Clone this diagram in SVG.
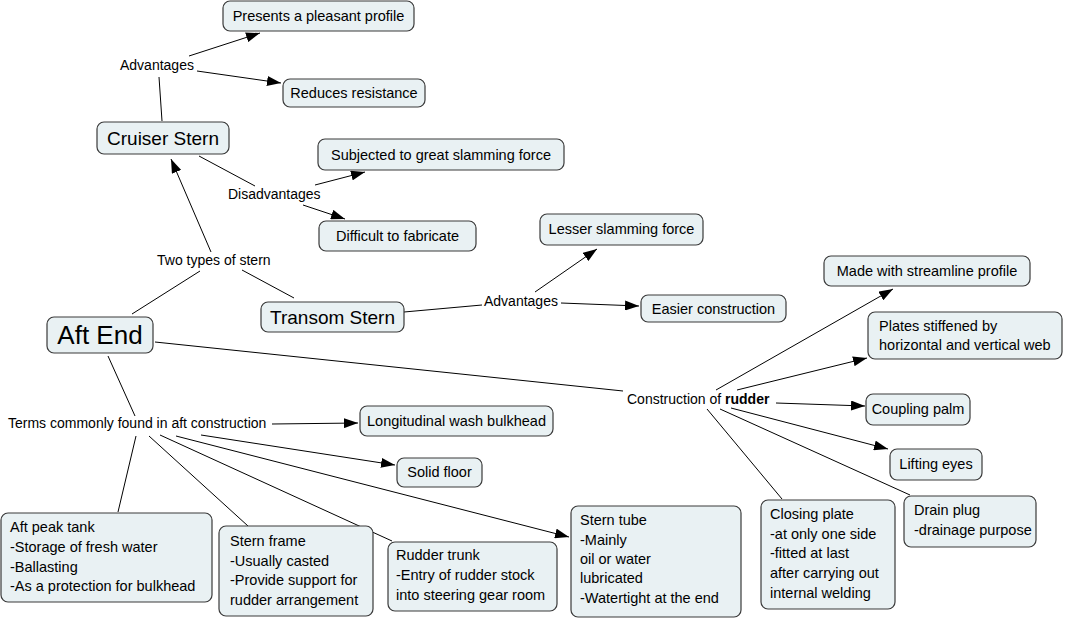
<svg xmlns="http://www.w3.org/2000/svg" width="1065" height="619" viewBox="0 0 1065 619">
<style>
.box{fill:#e9f1f3;stroke:#3a3a3a;stroke-width:1.2}
.t{font-family:"Liberation Sans",Arial,sans-serif;font-size:14.5px;fill:#000}
.c{text-anchor:middle}
.big{font-size:19px}
.huge{font-size:26px}
.lbl{font-family:"Liberation Sans",Arial,sans-serif;font-size:14px;fill:#000}
.ln{stroke:#000;stroke-width:1;fill:none}
.ar{marker-end:url(#ah)}
</style>
<defs>
<marker id="ah" viewBox="0 0 14 10" refX="14" refY="5" markerWidth="14" markerHeight="10" markerUnits="userSpaceOnUse" orient="auto"><path d="M0,0 L14,5 L0,10 z" fill="#000"/></marker>
</defs>
<rect width="1065" height="619" fill="#fff"/>
<g id="connectors">
<line class="ln" x1="162" y1="121" x2="159" y2="77"/>
<line class="ln ar" x1="189" y1="56" x2="260" y2="33"/>
<line class="ln ar" x1="197" y1="71" x2="281" y2="83"/>
<line class="ln" x1="199" y1="156" x2="255" y2="186"/>
<line class="ln ar" x1="315" y1="185" x2="365" y2="172"/>
<line class="ln ar" x1="303" y1="205" x2="345" y2="219"/>
<line class="ln ar" x1="211" y1="252" x2="171" y2="159"/>
<line class="ln" x1="132" y1="314" x2="200" y2="271"/>
<line class="ln" x1="294" y1="298" x2="242" y2="270"/>
<line class="ln" x1="404" y1="312" x2="482" y2="305"/>
<line class="ln ar" x1="535" y1="292" x2="597" y2="249"/>
<line class="ln ar" x1="561" y1="303" x2="639" y2="306"/>
<line class="ln" x1="155" y1="342" x2="623" y2="391"/>
<line class="ln" x1="108" y1="356" x2="135" y2="416"/>
<line class="ln ar" x1="272" y1="424" x2="358" y2="423"/>
<line class="ln ar" x1="201" y1="435" x2="395" y2="465"/>
<line class="ln ar" x1="176" y1="436" x2="569" y2="537"/>
<line class="ln" x1="160" y1="435" x2="392" y2="541"/>
<line class="ln" x1="149" y1="436" x2="248" y2="526"/>
<line class="ln" x1="136" y1="436" x2="118" y2="512"/>
<line class="ln ar" x1="716" y1="390" x2="893" y2="289"/>
<line class="ln ar" x1="737" y1="390" x2="867" y2="358"/>
<line class="ln ar" x1="776" y1="403" x2="865" y2="406"/>
<line class="ln ar" x1="731" y1="408" x2="888" y2="449"/>
<line class="ln" x1="720" y1="409" x2="910" y2="495"/>
<line class="ln" x1="707" y1="409" x2="782" y2="499"/>
</g>
<g id="labels">
<text class="lbl" x="120" y="70">Advantages</text>
<text class="lbl" x="228" y="199">Disadvantages</text>
<text class="lbl" x="157" y="265">Two types of stern</text>
<text class="lbl" x="484" y="306">Advantages</text>
<text class="lbl" x="8" y="428">Terms commonly found in aft construction</text>
<text class="lbl" x="627" y="404">Construction of <tspan font-weight="bold">rudder</tspan></text>
</g>
<g id="presents"><rect class="box" x="223" y="1" width="191" height="30" rx="7"/><text class="t c" x="318.5" y="21">Presents a pleasant profile</text></g>
<g id="reduces"><rect class="box" x="283" y="79" width="142" height="28" rx="7"/><text class="t c" x="354" y="98">Reduces resistance</text></g>
<g id="cruiser"><rect class="box" x="97" y="122" width="132" height="32" rx="7"/><text class="t c big" x="163" y="145">Cruiser Stern</text></g>
<g id="subjected"><rect class="box" x="318" y="139" width="246" height="31" rx="7"/><text class="t c" x="441" y="160">Subjected to great slamming force</text></g>
<g id="difficult"><rect class="box" x="319" y="221" width="157" height="30" rx="7"/><text class="t c" x="397.5" y="241">Difficult to fabricate</text></g>
<g id="lesser"><rect class="box" x="540" y="214" width="163" height="31" rx="7"/><text class="t c" x="621.5" y="234">Lesser slamming force</text></g>
<g id="transom"><rect class="box" x="261" y="302" width="143" height="30" rx="7"/><text class="t c big" x="332.5" y="324">Transom Stern</text></g>
<g id="easier"><rect class="box" x="641" y="295" width="145" height="27" rx="7"/><text class="t c" x="713.5" y="314">Easier construction</text></g>
<g id="aftend"><rect class="box" x="47" y="317" width="106" height="36" rx="7"/><text class="t c huge" x="100" y="344">Aft End</text></g>
<g id="streamline"><rect class="box" x="824" y="256" width="206" height="30" rx="7"/><text class="t c" x="927" y="276">Made with streamline profile</text></g>
<g id="plates"><rect class="box" x="868" y="312" width="194" height="47" rx="7"/><text class="t" x="879" y="331">Plates stiffened by</text><text class="t" x="879" y="350">horizontal and vertical web</text></g>
<g id="coupling"><rect class="box" x="866" y="394" width="104" height="31" rx="7"/><text class="t c" x="918" y="414">Coupling palm</text></g>
<g id="lifting"><rect class="box" x="890" y="449" width="92" height="31" rx="7"/><text class="t c" x="936" y="469">Lifting eyes</text></g>
<g id="longitudinal"><rect class="box" x="360" y="406" width="193" height="30" rx="7"/><text class="t c" x="456.5" y="426">Longitudinal wash bulkhead</text></g>
<g id="solidfloor"><rect class="box" x="397" y="458" width="85" height="29" rx="7"/><text class="t c" x="439.5" y="477">Solid floor</text></g>
<g id="aftpeak"><rect class="box" x="1" y="513" width="211" height="89" rx="7"/><text class="t" x="10" y="532">Aft peak tank</text><text class="t" x="10" y="552">-Storage of fresh water</text><text class="t" x="10" y="572">-Ballasting</text><text class="t" x="10" y="591">-As a protection for bulkhead</text></g>
<g id="sternframe"><rect class="box" x="219" y="526" width="154" height="90" rx="7"/><text class="t" x="230" y="546">Stern frame</text><text class="t" x="230" y="566">-Usually casted</text><text class="t" x="230" y="585">-Provide support for</text><text class="t" x="230" y="605">rudder arrangement</text></g>
<g id="ruddertrunk"><rect class="box" x="388" y="542" width="169" height="69" rx="7"/><text class="t" x="396" y="560">Rudder trunk</text><text class="t" x="396" y="580">-Entry of rudder stock</text><text class="t" x="396" y="600">into steering gear room</text></g>
<g id="sterntube"><rect class="box" x="571" y="506" width="170" height="111" rx="7"/><text class="t" x="580" y="525">Stern tube</text><text class="t" x="580" y="545">-Mainly</text><text class="t" x="580" y="564">oil or water</text><text class="t" x="580" y="583">lubricated</text><text class="t" x="580" y="603">-Watertight at the end</text></g>
<g id="closing"><rect class="box" x="761" y="500" width="134" height="109" rx="7"/><text class="t" x="770" y="519">Closing plate</text><text class="t" x="770" y="539">-at only one side</text><text class="t" x="770" y="558">-fitted at last</text><text class="t" x="770" y="578">after carrying out</text><text class="t" x="770" y="598">internal welding</text></g>
<g id="drain"><rect class="box" x="904" y="496" width="132" height="51" rx="7"/><text class="t" x="914" y="515">Drain plug</text><text class="t" x="914" y="535">-drainage purpose</text></g>
</svg>
